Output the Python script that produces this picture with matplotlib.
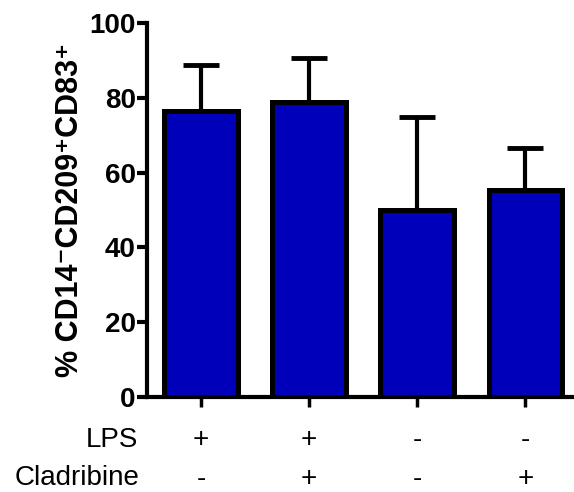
import matplotlib
matplotlib.use('Agg')
import matplotlib.pyplot as plt

plt.rcParams['font.family'] = ['Liberation Sans', 'DejaVu Sans']

groups = ['1', '2', '3', '4']
means = [76.5, 79, 50, 55.3]
sd_up = [12.3, 11.7, 25, 11.2]
lps = ['+', '+', '-', '-']
cladribine = ['-', '+', '-', '+']
yticks = [0, 20, 40, 60, 80, 100]

fig = plt.figure(figsize=(5.74, 4.92), dpi=100)
ax = fig.add_axes([0.256, 0.193, 0.744, 0.760])

x = list(range(len(groups)))
ax.bar(x, means, width=0.68, color='#0000bb', edgecolor='black', linewidth=3.6, zorder=3)
ax.errorbar(x, means, yerr=[[0]*len(sd_up), sd_up], fmt='none', ecolor='black',
            elinewidth=3, capsize=13, capthick=3.5, zorder=2)

ax.set_ylim(0, 100)
ax.set_xlim(-0.5, 3.45)
ax.set_yticks(yticks)
ax.set_xticks(x)
ax.set_xticklabels([])
for lab in ax.get_yticklabels():
    lab.set_fontweight('bold')
ax.tick_params(axis='y', labelsize=20, width=3, length=7, pad=1)
ax.tick_params(axis='x', width=2.5, length=7)

for s in ['top', 'right']:
    ax.spines[s].set_visible(False)
ax.spines['left'].set_linewidth(3)
ax.spines['bottom'].set_linewidth(3)

ax.set_ylabel('% CD14⁻CD209⁺CD83⁺', fontsize=22, fontweight='bold', labelpad=3)

# treatment table below the axis
trans = ax.get_xaxis_transform()
for i in x:
    ax.text(i, -0.115, lps[i], transform=trans, ha='center', va='center', fontsize=20)
    ax.text(i, -0.22, cladribine[i], transform=trans, ha='center', va='center', fontsize=20)
fig.text(138 / 574, 1 - 440 / 492, 'LPS', ha='right', va='center', fontsize=20)
fig.text(140 / 574, 1 - 478 / 492, 'Cladribine', ha='right', va='center', fontsize=20)

fig.savefig('out.png', dpi=100)
